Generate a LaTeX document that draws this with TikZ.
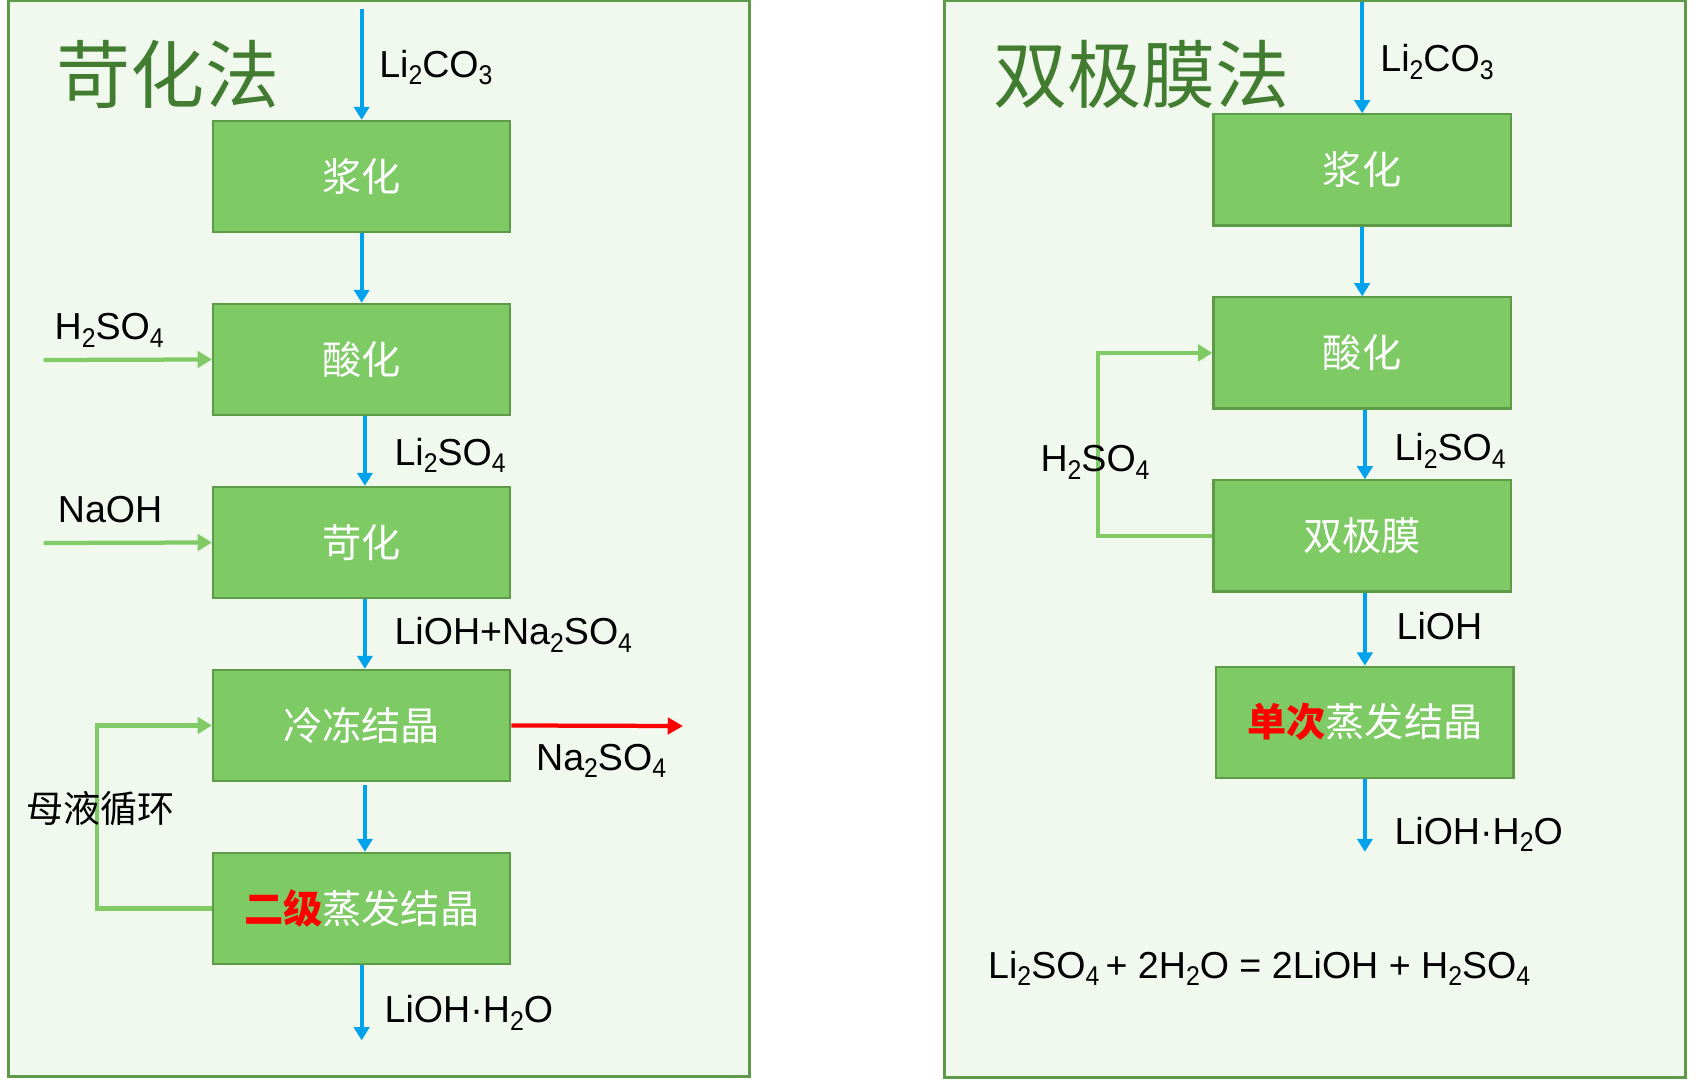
\documentclass[tikz,border=0pt]{standalone}
\usepackage{fontspec}
\usepackage{graphicx}
\setmainfont{Liberation Sans}
\newfontfamily\cjk{Noto Sans CJK SC}
\usetikzlibrary{arrows.meta}
\definecolor{panelfill}{HTML}{F1F8EE}
\definecolor{panelline}{HTML}{5E9B48}
\definecolor{boxfill}{HTML}{7ECA64}
\definecolor{boxline}{HTML}{5E9B48}
\definecolor{flowblue}{HTML}{00A2EC}
\definecolor{feedgreen}{HTML}{80CB66}
\definecolor{titlegreen}{HTML}{427C30}
\newcommand{\chs}[1]{\raisebox{-0.2em}{\scalebox{0.66}[0.72]{#1}}}
\tikzset{
  panel/.style={draw=panelline, line width=2.5pt, fill=panelfill},
  procbox/.style={draw=boxline, line width=2pt, fill=boxfill, minimum width=273pt, minimum height=102pt, inner sep=0pt, font=\cjk\fontsize{36}{40}\selectfont, text=white},
  flow/.style={draw=flowblue, line width=3.6pt, -{Triangle[width=14pt,length=12pt]}},
  feed/.style={draw=feedgreen, line width=3.9pt, -{Triangle[width=15pt,length=13pt]}},
  outred/.style={draw=red, line width=3.9pt, -{Triangle[width=15pt,length=14pt]}},
  lbl/.style={anchor=base west, inner sep=0pt, font=\fontsize{34.5}{40}\selectfont, text=black},
  cnlbl/.style={anchor=west, inner sep=0pt, font=\cjk\fontsize{34}{40}\selectfont, text=black},
  ttl/.style={anchor=west, inner sep=0pt, font=\cjk\fontsize{68}{80}\selectfont, text=titlegreen}
}
\begin{document}
\begin{tikzpicture}[x=1pt, y=-1pt]
\useasboundingbox (0,0) rectangle (1568,991);
% panels
\draw[panel] (8,1) rectangle (688,988);
\draw[panel] (867,1) rectangle (1547,989);

% left process boxes
\node[procbox] (L1) at (332,162) {浆化};
\node[procbox] (L2) at (332,330) {酸化};
\node[procbox] (L3) at (332,498) {苛化};
\node[procbox] (L4) at (332,666) {冷冻结晶};
\node[procbox] (L5) at (332,834) {\textcolor{red}{\bfseries 二级}蒸发结晶};

% right process boxes
\node[procbox] (R1) at (1250.5,156) {浆化};
\node[procbox] (R2) at (1250.5,324) {酸化};
\node[procbox] (R3) at (1250.5,492) {双极膜};
\node[procbox] (R4) at (1253,663) {\textcolor{red}{\bfseries 单次}蒸发结晶};

% left connectors
\coordinate (Lin) at (332,8);
\coordinate (Lout) at (332,955);
\coordinate (Fa) at (40,330.5);
\coordinate (Fb) at (40,498.5);
\coordinate (Rout) at (627,666.5);
\coordinate (LoopL) at (89,750);
\draw[flow] (Lin) -- (L1.north);
\draw[flow] (L1.south) -- (L2.north);
\draw[flow] ([xshift=3pt]L2.south) -- ([xshift=3pt]L3.north);
\draw[flow] ([xshift=3pt]L3.south) -- ([xshift=3pt]L4.north);
\draw[flow] ([xshift=3pt,yshift=-3pt]L4.south) -- ([xshift=3pt]L5.north);
\draw[flow] (L5.south) -- (Lout);
\draw[feed] (Fa) -- (L2.west);
\draw[feed] (Fb) -- (L3.west);
\draw[outred] (L4.east) -- (Rout);
\draw[feed] (L5.west) -| (LoopL) |- (L4.west);

% right connectors
\coordinate (Rin) at (1250.5,2);
\coordinate (Rend) at (1253,782);
\coordinate (LoopR) at (1008,410);
\draw[flow] (Rin) -- (R1.north);
\draw[flow] (R1.south) -- (R2.north);
\draw[flow] ([xshift=2.5pt]R2.south) -- ([xshift=2.5pt]R3.north);
\draw[flow] ([xshift=2.5pt]R3.south) -- (R4.north);
\draw[flow] (R4.south) -- (Rend);
\draw[feed] (R3.west) -| (LoopR) |- (R2.west);

% left labels
\node[ttl] (tA) at (52,68) {苛化法};
\node[lbl] (a1) at (348,71) {Li\chs{2}CO\chs{3}};
\node[lbl] (a2) at (50,312) {H\chs{2}SO\chs{4}};
\node[lbl] (a3) at (362,427) {Li\chs{2}SO\chs{4}};
\node[lbl] (a4) at (53,480) {NaOH};
\node[lbl] (a5) at (362,592) {LiOH+Na\chs{2}SO\chs{4}};
\node[lbl] (a6) at (492,707) {Na\chs{2}SO\chs{4}};
\node[lbl] (a7) at (353,939) {LiOH·H\chs{2}O};
\node[cnlbl] (a8) at (24,742) {母液循环};

% right labels
\node[ttl] (tB) at (912,68) {双极膜法};
\node[lbl] (b1) at (1267,66) {Li\chs{2}CO\chs{3}};
\node[lbl] (b2) at (1280,423) {Li\chs{2}SO\chs{4}};
\node[lbl] (b3) at (955,433) {H\chs{2}SO\chs{4}};
\node[lbl] (b4) at (1282,587) {LiOH};
\node[lbl] (b5) at (1280,775) {LiOH·H\chs{2}O};
\node[lbl] (b6) at (907,898) {Li\chs{2}SO\chs{4}\,+ 2H\chs{2}O = 2LiOH + H\chs{2}SO\chs{4}};
\end{tikzpicture}
\end{document}
